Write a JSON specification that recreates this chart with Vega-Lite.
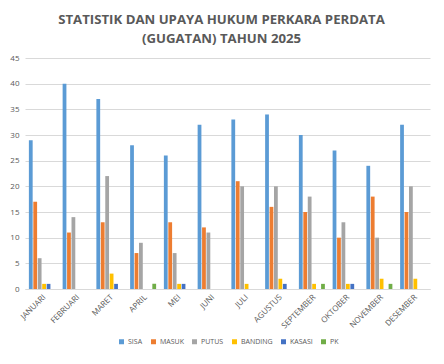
{
  "$schema": "https://vega.github.io/schema/vega-lite/v6.json",
  "width": 405,
  "height": 231,
  "autosize": {"type": "none"},
  "padding": {"left": 25, "top": 58, "right": 14, "bottom": 75},
  "background": "white",
  "title": {
    "text": ["STATISTIK DAN UPAYA HUKUM PERKARA PERDATA", "(GUGATAN) TAHUN 2025"],
    "font": "Open Sans",
    "fontSize": 13.2,
    "fontWeight": "bold",
    "color": "#595959",
    "anchor": "middle",
    "dx": -6,
    "lineHeight": 19,
    "offset": 8
  },
  "data": {
    "values": [
      {"bulan": "JANUARI", "jenis": "SISA", "nilai": 29},
      {"bulan": "JANUARI", "jenis": "MASUK", "nilai": 17},
      {"bulan": "JANUARI", "jenis": "PUTUS", "nilai": 6},
      {"bulan": "JANUARI", "jenis": "BANDING", "nilai": 1},
      {"bulan": "JANUARI", "jenis": "KASASI", "nilai": 1},
      {"bulan": "JANUARI", "jenis": "PK", "nilai": 0},
      {"bulan": "FEBRUARI", "jenis": "SISA", "nilai": 40},
      {"bulan": "FEBRUARI", "jenis": "MASUK", "nilai": 11},
      {"bulan": "FEBRUARI", "jenis": "PUTUS", "nilai": 14},
      {"bulan": "FEBRUARI", "jenis": "BANDING", "nilai": 0},
      {"bulan": "FEBRUARI", "jenis": "KASASI", "nilai": 0},
      {"bulan": "FEBRUARI", "jenis": "PK", "nilai": 0},
      {"bulan": "MARET", "jenis": "SISA", "nilai": 37},
      {"bulan": "MARET", "jenis": "MASUK", "nilai": 13},
      {"bulan": "MARET", "jenis": "PUTUS", "nilai": 22},
      {"bulan": "MARET", "jenis": "BANDING", "nilai": 3},
      {"bulan": "MARET", "jenis": "KASASI", "nilai": 1},
      {"bulan": "MARET", "jenis": "PK", "nilai": 0},
      {"bulan": "APRIL", "jenis": "SISA", "nilai": 28},
      {"bulan": "APRIL", "jenis": "MASUK", "nilai": 7},
      {"bulan": "APRIL", "jenis": "PUTUS", "nilai": 9},
      {"bulan": "APRIL", "jenis": "BANDING", "nilai": 0},
      {"bulan": "APRIL", "jenis": "KASASI", "nilai": 0},
      {"bulan": "APRIL", "jenis": "PK", "nilai": 1},
      {"bulan": "MEI", "jenis": "SISA", "nilai": 26},
      {"bulan": "MEI", "jenis": "MASUK", "nilai": 13},
      {"bulan": "MEI", "jenis": "PUTUS", "nilai": 7},
      {"bulan": "MEI", "jenis": "BANDING", "nilai": 1},
      {"bulan": "MEI", "jenis": "KASASI", "nilai": 1},
      {"bulan": "MEI", "jenis": "PK", "nilai": 0},
      {"bulan": "JUNI", "jenis": "SISA", "nilai": 32},
      {"bulan": "JUNI", "jenis": "MASUK", "nilai": 12},
      {"bulan": "JUNI", "jenis": "PUTUS", "nilai": 11},
      {"bulan": "JUNI", "jenis": "BANDING", "nilai": 0},
      {"bulan": "JUNI", "jenis": "KASASI", "nilai": 0},
      {"bulan": "JUNI", "jenis": "PK", "nilai": 0},
      {"bulan": "JULI", "jenis": "SISA", "nilai": 33},
      {"bulan": "JULI", "jenis": "MASUK", "nilai": 21},
      {"bulan": "JULI", "jenis": "PUTUS", "nilai": 20},
      {"bulan": "JULI", "jenis": "BANDING", "nilai": 1},
      {"bulan": "JULI", "jenis": "KASASI", "nilai": 0},
      {"bulan": "JULI", "jenis": "PK", "nilai": 0},
      {"bulan": "AGUSTUS", "jenis": "SISA", "nilai": 34},
      {"bulan": "AGUSTUS", "jenis": "MASUK", "nilai": 16},
      {"bulan": "AGUSTUS", "jenis": "PUTUS", "nilai": 20},
      {"bulan": "AGUSTUS", "jenis": "BANDING", "nilai": 2},
      {"bulan": "AGUSTUS", "jenis": "KASASI", "nilai": 1},
      {"bulan": "AGUSTUS", "jenis": "PK", "nilai": 0},
      {"bulan": "SEPTEMBER", "jenis": "SISA", "nilai": 30},
      {"bulan": "SEPTEMBER", "jenis": "MASUK", "nilai": 15},
      {"bulan": "SEPTEMBER", "jenis": "PUTUS", "nilai": 18},
      {"bulan": "SEPTEMBER", "jenis": "BANDING", "nilai": 1},
      {"bulan": "SEPTEMBER", "jenis": "KASASI", "nilai": 0},
      {"bulan": "SEPTEMBER", "jenis": "PK", "nilai": 1},
      {"bulan": "OKTOBER", "jenis": "SISA", "nilai": 27},
      {"bulan": "OKTOBER", "jenis": "MASUK", "nilai": 10},
      {"bulan": "OKTOBER", "jenis": "PUTUS", "nilai": 13},
      {"bulan": "OKTOBER", "jenis": "BANDING", "nilai": 1},
      {"bulan": "OKTOBER", "jenis": "KASASI", "nilai": 1},
      {"bulan": "OKTOBER", "jenis": "PK", "nilai": 0},
      {"bulan": "NOVEMBER", "jenis": "SISA", "nilai": 24},
      {"bulan": "NOVEMBER", "jenis": "MASUK", "nilai": 18},
      {"bulan": "NOVEMBER", "jenis": "PUTUS", "nilai": 10},
      {"bulan": "NOVEMBER", "jenis": "BANDING", "nilai": 2},
      {"bulan": "NOVEMBER", "jenis": "KASASI", "nilai": 0},
      {"bulan": "NOVEMBER", "jenis": "PK", "nilai": 1},
      {"bulan": "DESEMBER", "jenis": "SISA", "nilai": 32},
      {"bulan": "DESEMBER", "jenis": "MASUK", "nilai": 15},
      {"bulan": "DESEMBER", "jenis": "PUTUS", "nilai": 20},
      {"bulan": "DESEMBER", "jenis": "BANDING", "nilai": 2},
      {"bulan": "DESEMBER", "jenis": "KASASI", "nilai": 0},
      {"bulan": "DESEMBER", "jenis": "PK", "nilai": 0}
    ]
  },
  "mark": {"type": "bar"},
  "encoding": {
    "x": {
      "field": "bulan",
      "type": "nominal",
      "sort": null,
      "scale": {"paddingInner": 0.23, "paddingOuter": 0.115},
      "axis": {
        "title": null,
        "labelAngle": -45,
        "labelFont": "Open Sans",
        "labelFontSize": 8,
        "labelColor": "#595959",
        "ticks": false,
        "domainColor": "#D9D9D9",
        "labelPadding": 4
      }
    },
    "xOffset": {
      "field": "jenis",
      "type": "nominal",
      "sort": ["SISA", "MASUK", "PUTUS", "BANDING", "KASASI", "PK"],
      "scale": {"paddingInner": 0.15}
    },
    "y": {
      "field": "nilai",
      "type": "quantitative",
      "scale": {"domain": [0, 45]},
      "axis": {
        "title": null,
        "values": [0, 5, 10, 15, 20, 25, 30, 35, 40, 45],
        "labelFont": "Open Sans",
        "labelFontSize": 8,
        "labelColor": "#595959",
        "ticks": false,
        "domain": false,
        "gridColor": "#D9D9D9",
        "labelPadding": 6
      }
    },
    "color": {
      "field": "jenis",
      "type": "nominal",
      "sort": ["SISA", "MASUK", "PUTUS", "BANDING", "KASASI", "PK"],
      "scale": {
        "domain": ["SISA", "MASUK", "PUTUS", "BANDING", "KASASI", "PK"],
        "range": ["#5B9BD5", "#ED7D31", "#A5A5A5", "#FFC000", "#4472C4", "#70AD47"]
      },
      "legend": {
        "title": null,
        "orient": "none",
        "legendX": 93,
        "legendY": 280,
        "direction": "horizontal",
        "symbolType": "square",
        "symbolSize": 25,
        "symbolStrokeWidth": 0,
        "labelFont": "Open Sans",
        "labelFontSize": 7,
        "labelColor": "#595959",
        "columnPadding": 7,
        "labelOffset": 3
      }
    }
  },
  "config": {
    "view": {"stroke": null}
  }
}
